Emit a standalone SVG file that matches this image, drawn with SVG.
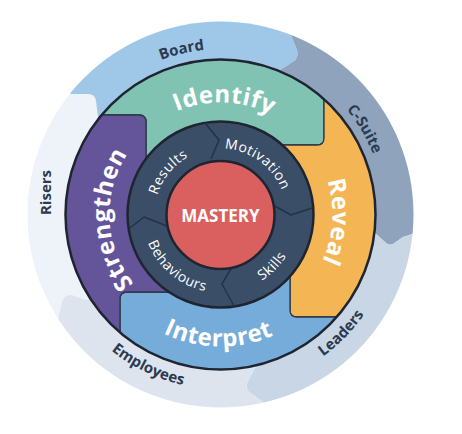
<svg xmlns="http://www.w3.org/2000/svg" width="462" height="434" viewBox="0 0 462 434">
<defs>
<clipPath id="clipOuter"><circle cx="220.5" cy="214.5" r="193"/></clipPath>
<clipPath id="clipRing"><circle cx="220.5" cy="214.5" r="155"/></clipPath>
<path id="pBoard" d="M72.2,139.9 A167,167 0 0 1 319.7,81.4"/>
<path id="pCSuite" d="M247.0,52.6 A164,164 0 0 1 375.3,268.7"/>
<path id="pLeaders" d="M206.8,389.0 A175,175 0 0 0 394.7,197.7"/>
<path id="pEmployees" d="M51.0,258.0 A176,176 0 0 0 292.8,373.9"/>
<path id="pRisers" d="M190,367 A170,170 0 0 1 190,62" transform="rotate(0)"/>
<path id="pIdentify" d="M125.5,155.2 A112,112 0 0 1 319.4,161.9"/>
<path id="pReveal" d="M282.5,121.2 A112,112 0 0 1 270.3,314.8"/>
<path id="pInterpret" d="M105.1,278.5 A132,132 0 0 0 333.7,282.5"/>
<path id="pStrengthen" d="M169.6,313.1 A111,111 0 0 1 160.5,121.1"/>
<path id="pResults" d="M155.7,227.1 A66,66 0 0 1 219.3,148.5"/>
<path id="pMotivation" d="M193.7,154.2 A66,66 0 0 1 286.1,221.4"/>
<path id="pSkills" d="M200.3,289.8 A78,78 0 0 0 295.8,194.3"/>
<path id="pBehaviours" d="M143.7,201.0 A78,78 0 0 0 247.2,287.8"/>
</defs>
<style>
.outerLbl{font-family:"Open Sans","Liberation Sans",sans-serif;font-weight:700;font-size:15px;fill:#2b3a50;}
.ringLbl{font-family:"Open Sans","Liberation Sans",sans-serif;font-weight:700;font-size:24px;fill:#ffffff;letter-spacing:0.5px;}
.innerLbl{font-family:"Open Sans","Liberation Sans",sans-serif;font-weight:400;font-size:14px;fill:#ffffff;letter-spacing:0.5px;}
.piece{stroke:#2c3746;stroke-width:1.3;stroke-linejoin:round;}
.seam{fill:none;stroke:#243247;stroke-width:1.5;stroke-linejoin:round;}
</style>
<rect width="462" height="434" fill="#ffffff"/>

<g id="outer-ring" clip-path="url(#clipOuter)">
  <g id="risers"><path d="M0,94 L88,94 Q95,94 96,101 L99,125 L220.5,214.5 L100,300 L85,300 L72,295 Q64,294 62,302 L50,350 L0,430 Z" fill="#eef3f9"/></g>
  <g id="board"><path d="M40,0 L40,94 L88,94 Q95,94 96,101 L99,125 L220.5,214.5 L265,80 L294,61 Q299,57 297,50 L285,20 L285,0 Z" fill="#9ec7e8"/></g>
  <g id="csuite"><path d="M285,0 L285,20 L297,50 Q299,57 294,61 L265,80 L220.5,214.5 L364,223 L375,233 L386,243 Q389,246 393,244 L403,237 L440,225 L440,0 Z" fill="#8fa3bc"/></g>
  <g id="leaders"><path d="M440,225 L403,237 L393,244 Q389,246 386,243 L375,233 L364,223 L220.5,214.5 L260,358 L255,368 L247,383 Q245,388 249,392 L263,402 L280,434 L440,434 Z" fill="#c8d6e6"/></g>
  <g id="employees"><path d="M280,434 L263,402 L249,392 Q245,388 247,383 L255,368 L260,358 L220.5,214.5 L100,300 L85,300 L72,295 Q64,294 62,302 L50,350 L0,434 Z" fill="#dde4ee"/></g>
</g>

<g id="colored-ring" clip-path="url(#clipRing)">
  <g id="identify"><path class="piece" d="M20,20 L20,115 L139,115 Q146,115 146,122 L146,205 L220.5,214.5 L255,145 L317,145 Q324,145 324,138 L324,20 Z" fill="#80c3b3"/></g>
  <g id="reveal"><path class="piece" d="M324,20 L324,138 Q324,145 317,145 L255,145 L220.5,214.5 L290,260 L290,310 Q290,317 297,317 L420,317 L420,20 Z" fill="#f4b654"/></g>
  <g id="interpret"><path class="piece" d="M420,317 L297,317 Q290,317 290,310 L290,260 L220.5,214.5 L185,292 L127,292 Q120,292 120,299 L120,420 L420,420 Z" fill="#76acd9"/></g>
  <g id="strengthen"><path class="piece" d="M120,420 L120,299 Q120,292 127,292 L185,292 L220.5,214.5 L146,205 L146,122 Q146,115 139,115 L20,115 L20,420 Z" fill="#64559a"/></g>
</g>
<circle cx="220.5" cy="214.5" r="155" fill="none" stroke="#1e2530" stroke-width="2.5"/>

<g id="inner-ring">
  <circle cx="220.5" cy="214.5" r="93" fill="#3a4e68" stroke="#1e2530" stroke-width="2.5"/>
  <g id="connectors">
    <polyline class="seam" points="205,123 219,140 211,159"/>
    <polyline class="seam" points="273,205 291,215 312,208"/>
    <polyline class="seam" points="232,267 222,284 234,306"/>
    <polyline class="seam" points="130,228 144,217 167,226"/>
  </g>
</g>

<g id="mastery">
  <circle cx="220.5" cy="215" r="54" fill="#d9605e" stroke="#1e2530" stroke-width="2.5"/>
  <text x="220.5" y="222" text-anchor="middle" font-family="'Open Sans','Liberation Sans',sans-serif" font-weight="700" font-size="17" fill="#ffffff">MASTERY</text>
</g>

<g id="labels-outer">
  <text class="outerLbl" text-anchor="middle"><textPath href="#pBoard" startOffset="50%">Board</textPath></text>
  <text class="outerLbl" text-anchor="middle"><textPath href="#pCSuite" startOffset="50%">C-Suite</textPath></text>
  <text class="outerLbl" text-anchor="middle"><textPath href="#pLeaders" startOffset="50%">Leaders</textPath></text>
  <text class="outerLbl" text-anchor="middle"><textPath href="#pEmployees" startOffset="50%">Employees</textPath></text>
  <text class="outerLbl" text-anchor="middle" transform="translate(50.5,192.5) rotate(-90)">Risers</text>
</g>

<g id="labels-ring">
  <text class="ringLbl" text-anchor="middle"><textPath href="#pIdentify" startOffset="50%">Identify</textPath></text>
  <text class="ringLbl" text-anchor="middle"><textPath href="#pReveal" startOffset="50%">Reveal</textPath></text>
  <text class="ringLbl" text-anchor="middle"><textPath href="#pInterpret" startOffset="50%">Interpret</textPath></text>
  <text class="ringLbl" text-anchor="middle"><textPath href="#pStrengthen" startOffset="50%">Strengthen</textPath></text>
</g>

<g id="labels-inner">
  <text class="innerLbl" text-anchor="middle"><textPath href="#pResults" startOffset="50%">Results</textPath></text>
  <text class="innerLbl" text-anchor="middle"><textPath href="#pMotivation" startOffset="50%">Motivation</textPath></text>
  <text class="innerLbl" text-anchor="middle"><textPath href="#pSkills" startOffset="50%">Skills</textPath></text>
  <text class="innerLbl" text-anchor="middle"><textPath href="#pBehaviours" startOffset="50%">Behaviours</textPath></text>
</g>
</svg>
